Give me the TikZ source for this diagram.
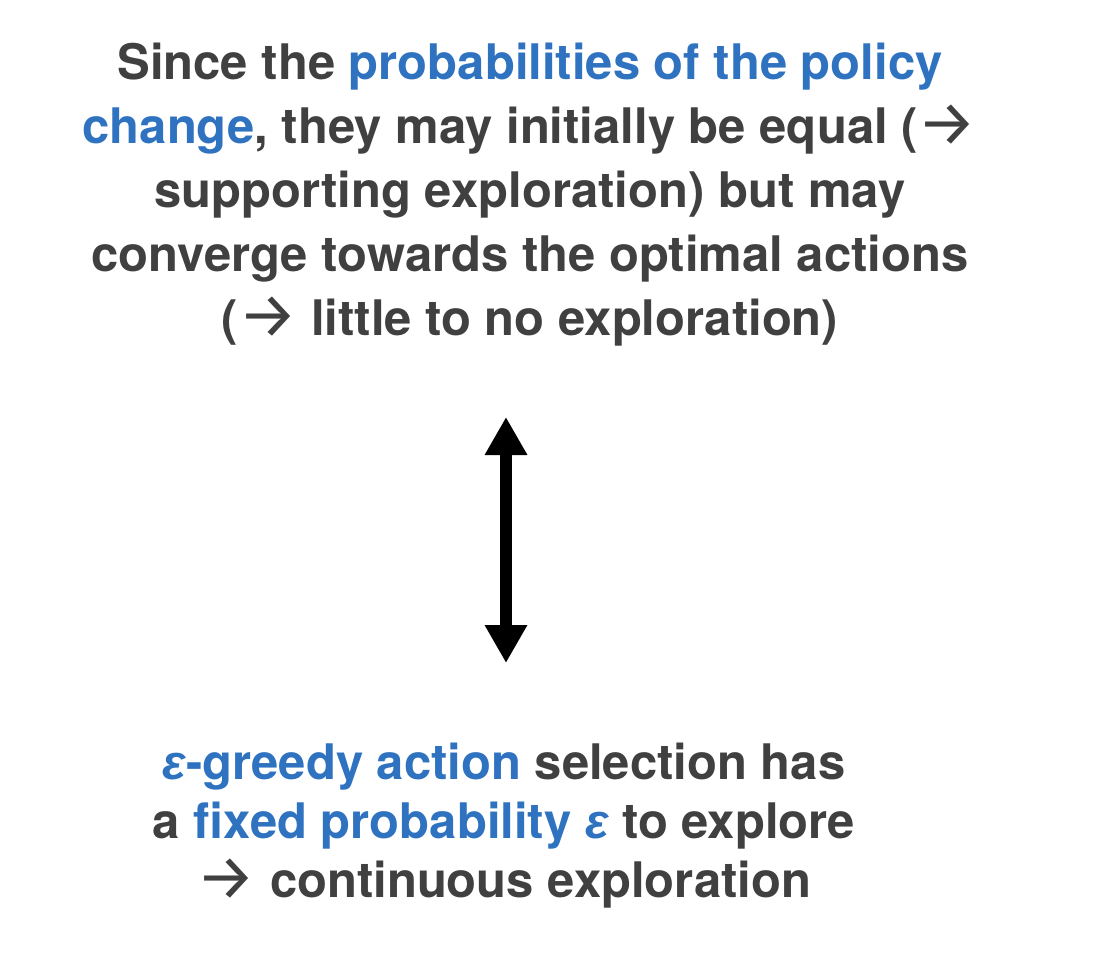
\documentclass[tikz,border=0pt]{standalone}
\usepackage{fontspec}
\usepackage{graphicx}
\setmainfont{TeX Gyre Heros}
\newfontfamily\arrowfont{Fira Sans}
\newfontfamily\greekfont{Liberation Sans}
\usetikzlibrary{arrows.meta}
\definecolor{txtgray}{HTML}{404040}
\definecolor{txtblue}{HTML}{2F72C0}
\newcommand{\hl}[1]{\textcolor{txtblue}{#1}}
\newcommand{\rarr}{\raisebox{-0.04em}{\scalebox{1.35}[1.3]{\arrowfont\mdseries →}}}
\newcommand{\eps}{{\greekfont\bfseries\itshape ε}}
\tikzset{
  textblock/.style={align=center, inner sep=0pt, text=txtgray, font=\bfseries},
  bigarrow/.style={line width=12pt, {Triangle[width=40pt,length=38pt]}-{Triangle[width=40pt,length=38pt]}}
}
\begin{document}
\begin{tikzpicture}[x=1pt,y=-1pt]
\useasboundingbox (0,0) rectangle (1094,960);
\node[textblock, anchor=north, font=\bfseries\fontsize{49}{64}\selectfont] (top) at (530,43)
 {Since the \hl{probabilities of the policy}\\
  \hl{change}, they may initially be equal (\rarr\\
  supporting exploration) but may\\
  converge towards the optimal actions\\
  (\rarr\ little to no exploration)};
\node[textblock, anchor=north, font=\bfseries\fontsize{49}{59}\selectfont] (bottom) at (504,743)
 {\hl{\eps-greedy action} selection has\\
  a \hl{fixed probability \eps} to explore\\
  \rarr\ continuous exploration};
\coordinate (atop) at (506,417);
\coordinate (abot) at (506,663);
\draw[bigarrow] (atop) -- (abot);
\end{tikzpicture}
\end{document}
